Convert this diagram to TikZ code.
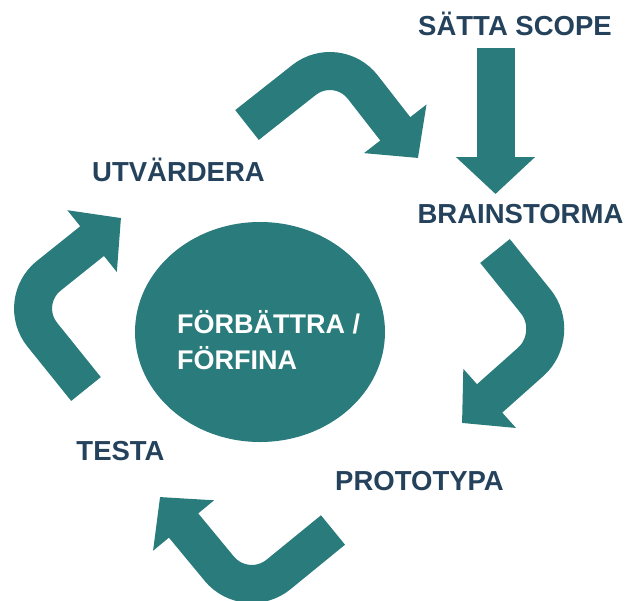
\documentclass[tikz,border=0pt]{standalone}
\usepackage{fontspec}
\setmainfont{Liberation Sans}
\usetikzlibrary{shapes,arrows.meta,positioning}
\definecolor{cyclecolor}{RGB}{42,123,123}
\definecolor{labelnavy}{RGB}{37,66,92}

\tikzset{
  steplabel/.style={font=\bfseries\fontsize{27.5}{33}\selectfont, text=labelnavy, inner sep=0pt, anchor=base},
  bigarrow/.style={draw=cyclecolor, line width=38pt, -{Triangle[length=37pt,width=77pt]}},
  bentarrow/.style={bigarrow, rounded corners=42pt},
}

\begin{document}
\begin{tikzpicture}[x=1pt,y=-1pt]
            \useasboundingbox (0,0) rectangle (632,600);

            % the steps
            \node[steplabel] (scope) at (515,35) {SÄTTA SCOPE};
            \node[steplabel] (brain) at (520.5,223) {BRAINSTORMA};
            \node[steplabel] (proto) at (419.5,490) {PROTOTYPA};
            \node[steplabel] (testa) at (120.5,460) {TESTA};
            \node[steplabel] (utv) at (178.5,181) {UTVÄRDERA};

            % hub in the middle
            \node[ellipse, fill=cyclecolor, minimum width=250pt, minimum height=220pt] (hub) at (260,332) {};
            \node[font=\bfseries\fontsize{27}{35.7}\selectfont, text=white, align=left, inner sep=0pt, anchor=base west] (refine) at (177,369) {FÖRBÄTTRA /\\FÖRFINA};

            % arrow ends
            \coordinate (s0) at (495.5,48);  \coordinate (s1) at (495.5,194);
            \coordinate (b0) at (495,251);   \coordinate (b1) at (562,334);  \coordinate (b2) at (462,423);
            \coordinate (p0) at (333,530);   \coordinate (p1) at (246,601);  \coordinate (p2) at (160,497);
            \coordinate (t0) at (86,389);    \coordinate (t1) at (16,302);   \coordinate (t2) at (121,218);
            \coordinate (u0) at (247,125);   \coordinate (u1) at (337,54);   \coordinate (u2) at (418,158);

            \draw[bigarrow] (s0) -- (s1);
            \draw[bentarrow] (b0) -- (b1) -- (b2);
            \draw[bentarrow] (p0) -- (p1) -- (p2);
            \draw[bentarrow] (t0) -- (t1) -- (t2);
            \draw[bentarrow] (u0) -- (u1) -- (u2);
        \end{tikzpicture}
\end{document}
